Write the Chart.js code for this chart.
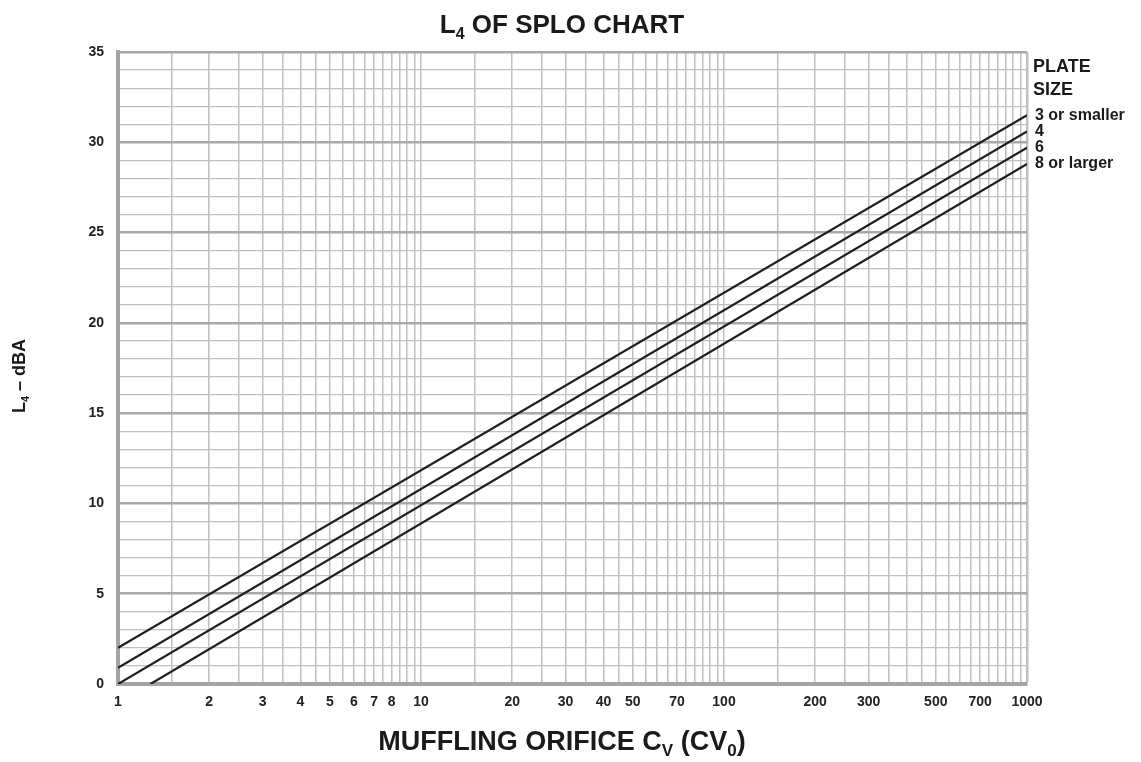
<!DOCTYPE html>
<html>
<head>
<meta charset="utf-8">
<title>L4 of SPLO chart</title>
<script src="https://cdn.jsdelivr.net/npm/chart.js@4.4.1/dist/chart.umd.min.js"></script>
<style>
  html, body { margin: 0; padding: 0; background: #ffffff; }
  #wrap { width: 1141px; height: 762px; }
</style>
</head>
<body>
<div id="wrap"><canvas id="chart" width="1141" height="762"></canvas></div>
<script>
// Plate sizes and the end points of each straight L4 line (log Cv axis)
const plateSizes = ['3 or smaller', '4', '6', '8 or larger'];
const cvStart = [1, 1, 1, 1.28];
const l4Start = [2.0, 0.9, 0.0, 0.0];
const cvEnd = [1000, 1000, 1000, 1000];
const l4End = [31.5, 30.6, 29.7, 28.8];

// Axis labelling
const xTickLabels = [1, 2, 3, 4, 5, 6, 7, 8, 10, 20, 30, 40, 50, 70, 100, 200, 300, 500, 700, 1000];
const xMultipliers = [1, 1.5, 2, 2.5, 3, 3.5, 4, 4.5, 5, 5.5, 6, 6.5, 7, 7.5, 8, 8.5, 9, 9.5];
const xDecades = [1, 10, 100];
const yMin = 0, yMax = 35, yLabelStep = 5;

const xGridValues = [];
xDecades.forEach(d => xMultipliers.forEach(m => xGridValues.push(d * m)));
xGridValues.push(1000);

const FONT = '"Liberation Sans", Arial, Helvetica, sans-serif';
const GRID = '#c0c0c4';
const GRID_MAJOR = '#a9a9ad';
const AXIS = '#a3a3a8';
const INK = '#1e1e1e';

const datasets = plateSizes.map((name, i) => ({
  label: name,
  data: [{ x: cvStart[i], y: l4Start[i] }, { x: cvEnd[i], y: l4End[i] }],
  showLine: true,
  borderColor: INK,
  borderWidth: 2.2,
  pointRadius: 0,
  fill: false
}));

// Draws text made of pieces, some of them as subscripts
function drawRuns(ctx, runs, size, x, y, align) {
  const sub = Math.round(size * 0.62);
  const widths = runs.map(r => {
    ctx.font = 'bold ' + (r.sub ? sub : size) + 'px ' + FONT;
    return ctx.measureText(r.t).width;
  });
  const total = widths.reduce((a, b) => a + b, 0);
  let cx = align === 'center' ? x - total / 2 : x;
  runs.forEach((r, i) => {
    ctx.font = 'bold ' + (r.sub ? sub : size) + 'px ' + FONT;
    ctx.fillText(r.t, cx, r.sub ? y + size * 0.24 : y);
    cx += widths[i];
  });
}

const annotations = {
  id: 'splaAnnotations',
  afterDraw(chart) {
    const ctx = chart.ctx;
    const area = chart.chartArea;
    const ys = chart.scales.y;
    ctx.save();
    ctx.fillStyle = '#1a1a1a';
    ctx.textAlign = 'left';
    ctx.textBaseline = 'alphabetic';

    // title
    drawRuns(ctx, [{ t: 'L' }, { t: '4', sub: true }, { t: ' OF SPLO CHART' }], 26, 562, 33, 'center');

    // x axis title
    drawRuns(ctx, [{ t: 'MUFFLING ORIFICE C' }, { t: 'V', sub: true }, { t: ' (CV' }, { t: '0', sub: true }, { t: ')' }],
      27, 562, 750, 'center');

    // y axis title
    ctx.save();
    ctx.translate(25, 376);
    ctx.rotate(-Math.PI / 2);
    drawRuns(ctx, [{ t: 'L' }, { t: '4', sub: true }, { t: ' \u2013 dBA' }], 18, 0, 0, 'center');
    ctx.restore();

    // plate size key at the right-hand ends of the lines
    const lx = area.right + 6;
    ctx.font = 'bold 18px ' + FONT;
    ctx.fillText('PLATE', lx, 72);
    ctx.fillText('SIZE', lx, 95);
    ctx.font = 'bold 16px ' + FONT;
    ctx.textBaseline = 'middle';
    plateSizes.forEach((name, i) => {
      ctx.fillText(name, lx + 2, ys.getPixelForValue(l4End[i]));
    });
    ctx.restore();
  }
};

new Chart(document.getElementById('chart'), {
  type: 'scatter',
  data: { datasets },
  plugins: [annotations],
  options: {
    responsive: false,
    animation: false,
    layout: { padding: { top: 52, right: 114, bottom: 0, left: 0 } },
    plugins: {
      legend: { display: false },
      title: { display: false },
      tooltip: { enabled: false }
    },
    scales: {
      x: {
        type: 'logarithmic',
        min: 1,
        max: 1000,
        afterBuildTicks: s => { s.ticks = xGridValues.map(v => ({ value: v })); },
        afterFit: s => { s.height = 78; },
        ticks: {
          autoSkip: false,
          maxRotation: 0,
          padding: 10,
          color: '#222',
          font: { family: FONT, size: 14, weight: 'bold' },
          callback: v => (xTickLabels.includes(v) ? String(v) : '')
        },
        grid: {
          drawTicks: false,
          color: GRID,
          lineWidth: c => (c.tick && c.tick.value === 1000 ? 2.5 : 1.5)
        },
        border: { display: true, width: 4, color: AXIS }
      },
      y: {
        type: 'linear',
        min: yMin,
        max: yMax,
        afterFit: s => { s.width = 118; },
        ticks: {
          stepSize: 1,
          autoSkip: false,
          padding: 14,
          color: '#222',
          font: { family: FONT, size: 14, weight: 'bold' },
          callback: v => (v % yLabelStep === 0 ? String(v) : '')
        },
        grid: {
          drawTicks: false,
          color: c => (c.tick && c.tick.value % yLabelStep === 0 ? GRID_MAJOR : GRID),
          lineWidth: c => (c.tick && c.tick.value % yLabelStep === 0 ? 2.5 : 1.2)
        },
        border: { display: true, width: 4, color: AXIS }
      }
    }
  }
});
</script>
</body>
</html>
